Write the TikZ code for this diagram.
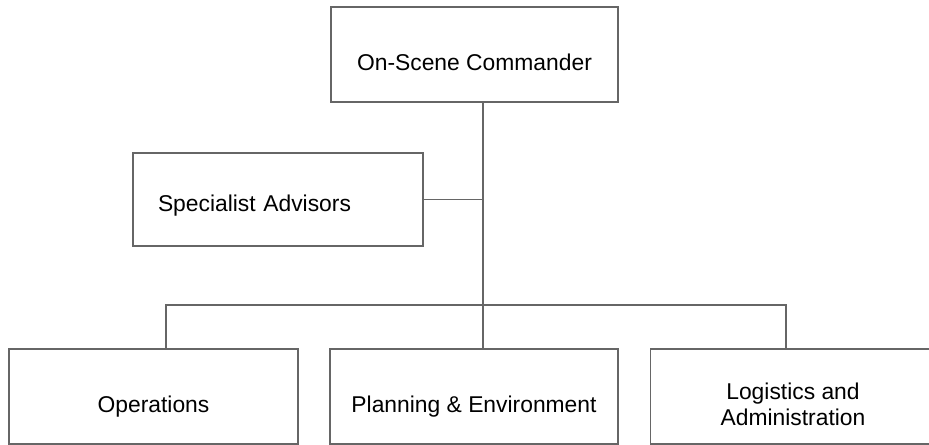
\documentclass[tikz,border=0pt]{standalone}
\usepackage{fontspec}
\setmainfont{Liberation Sans}
\usepackage{xcolor}
\usepackage{tikz}
\usetikzlibrary{positioning}

\begin{document}
\begin{tikzpicture}[
    unit/.style={rectangle, draw=black!60, line width=0.6pt, fill=white, align=center, minimum height=1.9cm,
        text height=0.72cm, text depth=0.08cm, font=\fontsize{13}{15}\selectfont},
    link/.style={draw=black!60, line width=0.6pt}]

    \useasboundingbox (0,0) rectangle (18.58,-8.9);

    \node[unit, minimum width=5.74cm] (commander) at (9.49,-1.09) {On-Scene Commander};
    \node[unit, text width=4.8cm, align=left, inner xsep=0.5cm, minimum height=1.86cm,
        text height=0.6cm, text depth=0.1cm] (advisors) at (5.56,-3.99) {Specialist Advisors};
    \node[unit, minimum width=5.78cm] (operations) at (3.07,-7.93) {Operations};
    \node[unit, minimum width=5.76cm] (planning) at (9.48,-7.93) {Planning \& Environment};
    \node[unit, minimum width=5.7cm, text height=1.25cm, text depth=0.07cm] (logistics) at (15.86,-7.93) {Logistics and\\Administration};

    \coordinate (trunk) at (9.66,-6.1);
    \coordinate (busL) at (3.32,-6.1);
    \coordinate (busR) at (15.72,-6.1);

    \draw[link] (commander.south -| trunk) -- (trunk);
    \draw[link] (advisors.east) -- (advisors.east -| trunk);
    \draw[link] (operations.north -| busL) -- (busL) -- (busR) -- (logistics.north -| busR);
    \draw[link] (trunk) -- (planning.north -| trunk);

\end{tikzpicture}
\end{document}
